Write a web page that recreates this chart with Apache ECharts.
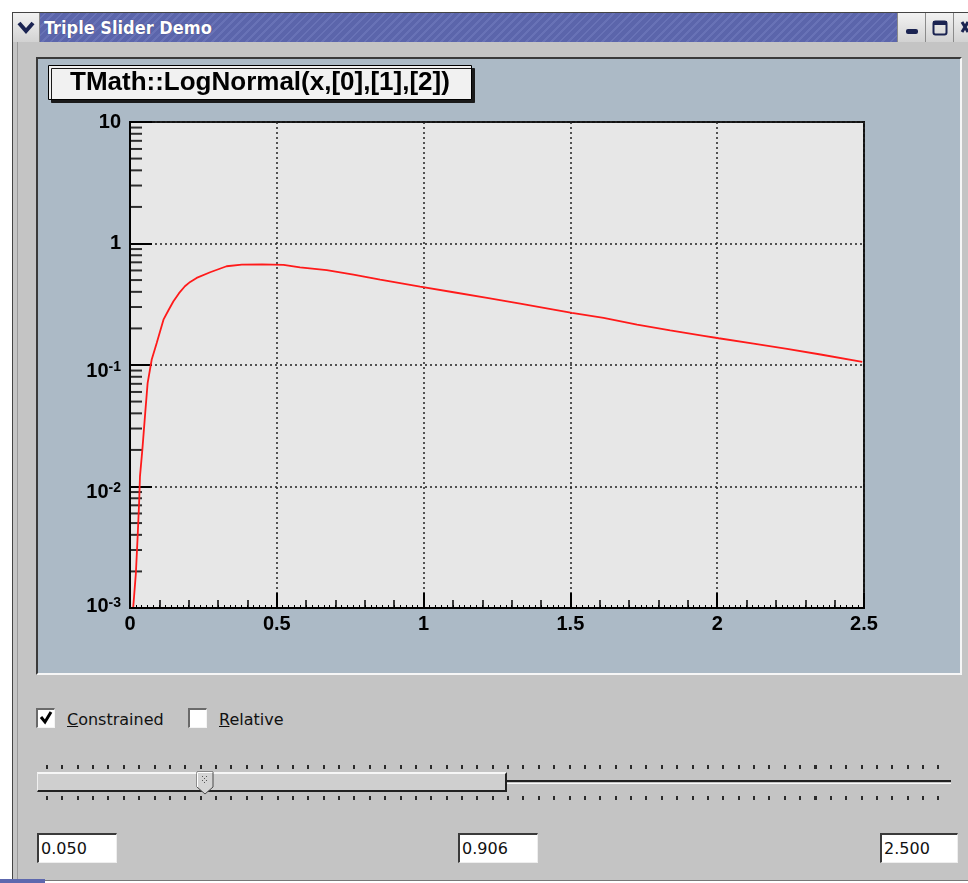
<!DOCTYPE html>
<html>
<head>
<meta charset="utf-8">
<script src="https://cdn.jsdelivr.net/npm/echarts/dist/echarts.min.js"></script>
<style>
  html, body { margin:0; padding:0; }
  body { width:968px; height:883px; position:relative; overflow:hidden; background:#ffffff; font-family:'DejaVu Sans', sans-serif; }
  .abs { position:absolute; box-sizing:border-box; }
  .btn { background:linear-gradient(#f2f2f2,#d2d2d2); border-left:1px solid #8a8a8a; height:29px; top:13px; }
  .field { background:#fff; border-top:2px solid #3a3a3a; border-left:2px solid #3a3a3a; border-bottom:1px solid #eeeeee; border-right:1px solid #eeeeee; height:30px; font-size:16px; line-height:27px; padding-left:2px; color:#111; }
  .chk { width:19px; height:20px; background:#fff; border-top:2px solid #6a6a6a; border-left:2px solid #6a6a6a; border-bottom:1px solid #f4f4f4; border-right:1px solid #f4f4f4; }
  .lbl { font-size:16px; color:#111; line-height:20px; }
  .ticks { height:4px; background:repeating-linear-gradient(90deg,#2a2a2a 0px,#2a2a2a 2px,transparent 2px,transparent 15.37px); }
</style>
</head>
<body>
<!-- window chrome -->
<div class="abs" style="left:12px;top:12px;width:960px;height:869px;background:#c4c4c4;border-top:1px solid #444;border-left:1px solid #444;border-bottom:1px solid #777;"></div>
<div class="abs" style="left:17px;top:42px;width:1px;height:838px;background:#9a9a9a;"></div>
<div class="abs" style="left:13px;top:13px;width:955px;height:29px;background:repeating-linear-gradient(135deg,#5b65ab 0px,#5b65ab 4px,#6872b6 4px,#6872b6 6px);"></div>
<div class="abs btn" style="left:13px;width:27px;border-left:none;border-right:1px solid #8a8a8a;">
  <svg width="27" height="29"><polyline points="6,10 13,18 20,10" fill="none" stroke="#1b2452" stroke-width="4"/></svg>
</div>
<div class="abs" style="left:44px;top:13px;height:29px;line-height:29px;color:#fff;font-family:'DejaVu Sans Condensed','DejaVu Sans',sans-serif;font-weight:bold;font-size:18px;text-shadow:0 0 1px #2a2f60;">Triple Slider Demo</div>
<div class="abs btn" style="left:897px;width:28px;"><svg width="28" height="29"><rect x="8" y="16" width="12" height="5" rx="2" fill="#1b2452"/></svg></div>
<div class="abs btn" style="left:925px;width:28px;"><svg width="28" height="29"><rect x="7.5" y="8.5" width="13" height="13" rx="2" fill="none" stroke="#1b2452" stroke-width="2"/><rect x="7" y="8" width="14" height="4" fill="#1b2452"/></svg></div>
<div class="abs btn" style="left:953px;width:15px;"><svg width="15" height="29"><path d="M8 9 L14 19 M14 9 L8 19" stroke="#1b2452" stroke-width="3"/></svg></div>

<!-- canvas frame -->
<div class="abs" style="left:36px;top:57px;width:926px;height:618px;border-top:2px solid #3a3a3a;border-left:2px solid #3a3a3a;border-bottom:2px solid #f6f6f6;border-right:2px solid #f6f6f6;"></div>
<div id="chart" class="abs" style="left:38px;top:59px;width:922px;height:614px;"></div>

<!-- check buttons -->
<div class="abs chk" style="left:36px;top:708px;"><svg width="16" height="16" style="position:absolute;left:0;top:0"><polyline points="3,7 7,12 13,2" fill="none" stroke="#000" stroke-width="3"/></svg></div>
<div class="abs lbl" style="left:67px;top:710px;"><u>C</u>onstrained</div>
<div class="abs chk" style="left:188px;top:708px;"></div>
<div class="abs lbl" style="left:219px;top:710px;"><u>R</u>elative</div>

<!-- triple slider -->
<div class="abs ticks" style="left:46px;top:765px;width:905px;"></div>
<div class="abs ticks" style="left:46px;top:796px;width:905px;"></div>
<div class="abs" style="left:505px;top:780px;width:446px;height:4px;border-top:2px solid #222;border-bottom:1px solid #fafafa;"></div>
<div class="abs" style="left:37px;top:772px;width:470px;height:20px;background:#cfcfcf;border-top:2px solid #f6f6f6;border-left:1px solid #f0f0f0;border-bottom:2px solid #222;border-right:2px solid #222;"></div>
<svg class="abs" style="left:196px;top:771px;" width="18" height="24">
  <polygon points="1,1 17,1 17,16 9,23 1,16" fill="#d4d4d4" stroke="#4a4a4a" stroke-width="1"/>
  <polyline points="1.5,16 1.5,1.5 16.5,1.5" fill="none" stroke="#ffffff" stroke-width="1"/>
  <g fill="#555"><rect x="6" y="5" width="1" height="1"/><rect x="10" y="5" width="1" height="1"/><rect x="8" y="7" width="1" height="1"/><rect x="6" y="9" width="1" height="1"/><rect x="10" y="9" width="1" height="1"/><rect x="8" y="11" width="1" height="1"/></g>
</svg>

<!-- number entries -->
<div class="abs field" style="left:37px;top:833px;width:80px;">0.050</div>
<div class="abs field" style="left:458px;top:833px;width:80px;">0.906</div>
<div class="abs field" style="left:880px;top:833px;width:78px;">2.500</div>

<div class="abs" style="left:0px;top:879px;width:45px;height:4px;background:#5d68ae;"></div>

<script>
// ---- chart data ----
const chartTitle = 'TMath::LogNormal(x,[0],[1],[2])';
const xValues = [0.011, 0.020, 0.026, 0.031, 0.034, 0.042, 0.051, 0.060, 0.074, 0.091,
                 0.114, 0.131, 0.148, 0.167, 0.187, 0.205, 0.227, 0.273, 0.329, 0.381,
                 0.450, 0.523, 0.579, 0.670, 0.761, 0.852, 0.988, 1.102, 1.216, 1.329,
                 1.443, 1.505, 1.613, 1.727, 1.840, 1.954, 2.005, 2.124, 2.238, 2.352, 2.494];
const yValues = [0.00102, 0.00193, 0.00386, 0.0073, 0.0121, 0.020, 0.038, 0.071, 0.111, 0.152,
                 0.236, 0.282, 0.335, 0.390, 0.445, 0.483, 0.521, 0.580, 0.650, 0.671,
                 0.672, 0.668, 0.635, 0.603, 0.555, 0.505, 0.442, 0.397, 0.357, 0.320,
                 0.286, 0.268, 0.244, 0.215, 0.193, 0.174, 0.166, 0.150, 0.136, 0.122, 0.106];
const xTickValues = [0, 0.5, 1, 1.5, 2, 2.5];
const xTickLabels = ['0', '0.5', '1', '1.5', '2', '2.5'];
const yTickValues = [0.001, 0.01, 0.1, 1, 10];
const yTickLabels = ['10^-3', '10^-2', '10^-1', '1', '10'];
const yMinorTickValues = [0.002, 0.003, 0.004, 0.005, 0.006, 0.007, 0.008, 0.009,
                          0.02, 0.03, 0.04, 0.05, 0.06, 0.07, 0.08, 0.09,
                          0.2, 0.3, 0.4, 0.5, 0.6, 0.7, 0.8, 0.9,
                          2, 3, 4, 5, 6, 7, 8, 9];

const FONT = "'Liberation Sans', Arial, Helvetica, sans-serif";
const chart = echarts.init(document.getElementById('chart'));

function fmtX(v) {
  const i = xTickValues.findIndex(t => Math.abs(t - v) < 1e-9);
  return i >= 0 ? xTickLabels[i] : '';
}
function fmtY(v) {
  const i = yTickValues.findIndex(t => Math.abs(Math.log10(t) - Math.log10(v)) < 1e-6);
  if (i < 0) return '';
  const lab = yTickLabels[i];
  if (lab.indexOf('^') >= 0) {
    const p = lab.split('^');
    const k = i === 0 ? '0' : '';
    return '{e' + k + '|' + p[0] + '}{s' + k + '|' + p[1] + '}';
  }
  return '{b|' + lab + '}';
}

const bold20 = { fontFamily: FONT, fontWeight: 'bold', fontSize: 20, color: '#000', lineHeight: 24 };
const sup14 = { fontFamily: FONT, fontWeight: 'bold', fontSize: 14, color: '#000', lineHeight: 16, verticalAlign: 'top' };

const option = {
  animation: false,
  backgroundColor: '#acbac6',
  title: {
    text: chartTitle,
    left: 10, top: 6,
    padding: [5, 22, 4, 22],
    backgroundColor: '#f1f1f1',
    borderColor: '#000', borderWidth: 1,
    shadowColor: '#1a1a1a', shadowBlur: 0, shadowOffsetX: 3, shadowOffsetY: 3,
    textStyle: { fontFamily: FONT, fontWeight: 'bold', fontSize: 26, color: '#000', lineHeight: 26 }
  },
  grid: {
    left: 92, top: 63, width: 734, height: 486,
    show: true, backgroundColor: '#e7e7e7', borderColor: '#111', borderWidth: 2
  },
  xAxis: [{
    type: 'value', min: 0, max: 2.5, interval: 0.5, position: 'bottom',
    axisLine: { show: true, onZero: false, lineStyle: { color: '#000', width: 2 } },
    axisTick: { show: true, inside: true, length: 15, lineStyle: { color: '#000', width: 2 } },
    minorTick: { show: true, splitNumber: 5, length: 8, lineStyle: { color: '#000', width: 1.5 } },
    axisLabel: { formatter: fmtX, margin: 6, fontFamily: FONT, fontWeight: 'bold', fontSize: 20, color: '#000' },
    splitLine: { show: true, lineStyle: { type: [2, 3], color: '#222', width: 1.5 } }
  }, {
    type: 'value', min: 0, max: 2.5, interval: 0.1, position: 'bottom',
    axisLine: { show: false },
    axisTick: { show: true, inside: true, length: 3, lineStyle: { color: '#000', width: 1 } },
    minorTick: { show: true, splitNumber: 5, length: 3, lineStyle: { color: '#000', width: 1 } },
    axisLabel: { show: false },
    splitLine: { show: false }
  }],
  yAxis: {
    type: 'log', logBase: 10, min: 0.001, max: 10,
    axisLine: { show: true, onZero: false, lineStyle: { color: '#000', width: 2 } },
    axisTick: { show: true, inside: true, length: 22, lineStyle: { color: '#000', width: 2 } },
    axisLabel: {
      formatter: fmtY, margin: 9,
      rich: {
        b: bold20,
        e: Object.assign({}, bold20, { padding: [12, 0, 0, 0] }),
        s: Object.assign({}, sup14, { padding: [7, 0, 0, 0] }),
        e0: Object.assign({}, bold20, { padding: [0, 0, 4, 0] }),
        s0: Object.assign({}, sup14, { padding: [0, 0, 0, 0] })
      }
    },
    splitLine: { show: true, lineStyle: { type: [2, 3], color: '#222', width: 1.5 } }
  },
  series: [{
    type: 'line',
    xAxisIndex: 0,
    data: xValues.map((x, i) => [x, yValues[i]]),
    showSymbol: false, symbol: 'none', smooth: false,
    lineStyle: { color: '#ff1a1a', width: 1.8 },
    silent: true, z: 5
  }, {
    type: 'scatter',
    xAxisIndex: 0,
    data: yMinorTickValues.map(v => [0, v]),
    symbol: 'rect', symbolSize: [12, 2], symbolOffset: [6, 0],
    itemStyle: { color: '#000' },
    clip: false, silent: true, z: 4
  }]
};
chart.setOption(option);
</script>
</body>
</html>
